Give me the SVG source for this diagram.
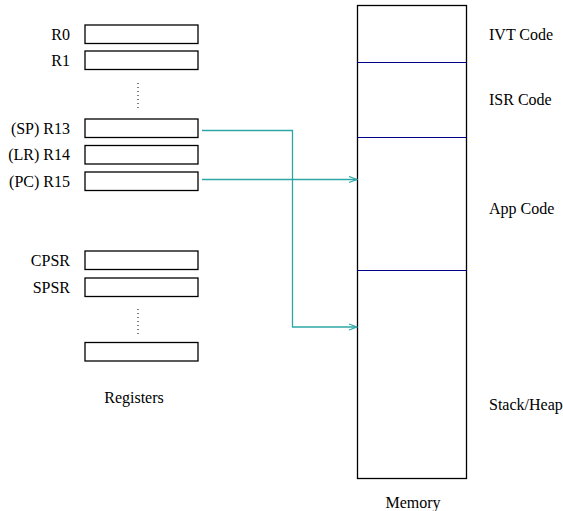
<svg xmlns="http://www.w3.org/2000/svg" width="563" height="511" viewBox="0 0 563 511">
<style>
.reg{fill:#fff;stroke:#000;stroke-width:1.3}
.lbl{font-family:"Liberation Serif","Times New Roman",serif;font-size:16px;fill:#000}
.r{text-anchor:end}
.dots{stroke:#000;stroke-width:1;stroke-dasharray:1 3}
.div{stroke:#00008b;stroke-width:1.2}
.conn{fill:none;stroke:#2ea6a6;stroke-width:1.3}
</style>
<defs>
<marker id="ah" markerWidth="10" markerHeight="8" refX="9" refY="4" orient="auto" markerUnits="userSpaceOnUse">
<path d="M1,1 L9,4 L1,7" fill="none" stroke="#2ea6a6" stroke-width="1.2"/>
</marker>
</defs>
<rect width="563" height="511" fill="#fff"/>
<g id="r0"><rect class="reg" x="85" y="25" width="113" height="18.5"/><text class="lbl r" x="70" y="39.5">R0</text></g>
<g id="r1"><rect class="reg" x="85" y="51" width="113" height="18.5"/><text class="lbl r" x="70" y="65.5">R1</text></g>
<g id="dots1"><line class="dots" x1="138" y1="83" x2="138" y2="110"/></g>
<g id="r13"><rect class="reg" x="85" y="119" width="113" height="18.5"/><text class="lbl r" x="70" y="133.5">(SP) R13</text></g>
<g id="r14"><rect class="reg" x="85" y="145.5" width="113" height="18.5"/><text class="lbl r" x="70" y="160">(LR) R14</text></g>
<g id="r15"><rect class="reg" x="85" y="172" width="113" height="18.5"/><text class="lbl r" x="70" y="186.5">(PC) R15</text></g>
<g id="cpsr"><rect class="reg" x="85" y="251" width="113" height="18.5"/><text class="lbl r" x="70" y="265.5">CPSR</text></g>
<g id="spsr"><rect class="reg" x="85" y="278" width="113" height="18.5"/><text class="lbl r" x="70" y="292.5">SPSR</text></g>
<g id="dots2"><line class="dots" x1="138" y1="309" x2="138" y2="336"/></g>
<g id="rlast"><rect class="reg" x="85" y="342.5" width="113" height="18.5"/></g>
<g id="registers-label"><text class="lbl" x="134" y="402.5" text-anchor="middle">Registers</text></g>
<g id="memory">
<rect class="reg" x="357.5" y="5.5" width="109" height="473"/>
<line class="div" x1="357.5" y1="62.5" x2="466.5" y2="62.5"/>
<line class="div" x1="357.5" y1="137.5" x2="466.5" y2="137.5"/>
<line class="div" x1="357.5" y1="270.5" x2="466.5" y2="270.5"/>
<text class="lbl" x="489" y="40">IVT Code</text>
<text class="lbl" x="489" y="104.5">ISR Code</text>
<text class="lbl" x="489" y="213.5">App Code</text>
<text class="lbl" x="489" y="409.5">Stack/Heap</text>
<text class="lbl" x="413" y="507.5" text-anchor="middle">Memory</text>
</g>
<g id="connectors">
<path class="conn" d="M202,130.5 H292.5 V327 H357" marker-end="url(#ah)"/>
<path class="conn" d="M202,179.5 H357" marker-end="url(#ah)"/>
</g>
</svg>
